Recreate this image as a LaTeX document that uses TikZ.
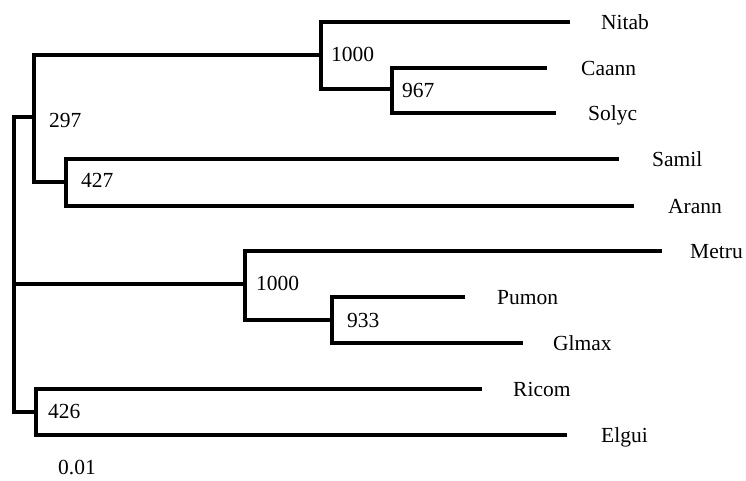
\documentclass[tikz,border=0pt]{standalone}
\usepackage{fontspec}
\setmainfont{Liberation Serif}
\begin{document}
\begin{tikzpicture}[x=1pt,y=-1pt,
  branch/.style={line width=3.2pt,line join=miter,line cap=butt},
  txt/.style={inner sep=0pt,anchor=west,text height=14.2pt,text depth=0pt,font=\fontsize{21.5}{24}\selectfont}]
\useasboundingbox (0,0) rectangle (746,481);
% internal nodes
\coordinate (root) at (14,284);
\coordinate (n297) at (34,117);
\coordinate (n1000a) at (321,55);
\coordinate (n967) at (392,89);
\coordinate (n427) at (66,182);
\coordinate (n1000b) at (245,284);
\coordinate (n933) at (332,320);
\coordinate (n426) at (36,412);
% leaf ends
\coordinate (lNitab) at (570,22);
\coordinate (lCaann) at (547,68);
\coordinate (lSolyc) at (556,113);
\coordinate (lSamil) at (619,159);
\coordinate (lArann) at (634,206);
\coordinate (lMetru) at (662,251);
\coordinate (lPumon) at (465,297);
\coordinate (lGlmax) at (523,343);
\coordinate (lRicom) at (482,389);
\coordinate (lElgui) at (567,435);
% branches
\draw[branch] (root) |- (n297);
\draw[branch] (root) -- (n1000b);
\draw[branch] (root) |- (n426);
\draw[branch] (n297) |- (n1000a);
\draw[branch] (n297) |- (n427);
\draw[branch] (n1000a) |- (lNitab);
\draw[branch] (n1000a) |- (n967);
\draw[branch] (n967) |- (lCaann);
\draw[branch] (n967) |- (lSolyc);
\draw[branch] (n427) |- (lSamil);
\draw[branch] (n427) |- (lArann);
\draw[branch] (n1000b) |- (lMetru);
\draw[branch] (n1000b) |- (n933);
\draw[branch] (n933) |- (lPumon);
\draw[branch] (n933) |- (lGlmax);
\draw[branch] (n426) |- (lRicom);
\draw[branch] (n426) |- (lElgui);
% leaf labels
\node[txt] (tNitab) at (601,22) {Nitab};
\node[txt] (tCaann) at (581,68) {Caann};
\node[txt] (tSolyc) at (588,113) {Solyc};
\node[txt] (tSamil) at (652,159) {Samil};
\node[txt] (tArann) at (668,206) {Arann};
\node[txt] (tMetru) at (690,251) {Metru};
\node[txt] (tPumon) at (497,297) {Pumon};
\node[txt] (tGlmax) at (553,343) {Glmax};
\node[txt] (tRicom) at (513,389) {Ricom};
\node[txt] (tElgui) at (601,435) {Elgui};
% support values
\node[txt] (b297) at (49,120) {297};
\node[txt] (b427) at (81,180) {427};
\node[txt] (b1000a) at (331,54) {1000};
\node[txt] (b967) at (402,90) {967};
\node[txt] (b1000b) at (256,283.5) {1000};
\node[txt] (b933) at (347,320) {933};
\node[txt] (b426) at (48,411) {426};
\node[txt] (scale) at (58,467) {0.01};
\end{tikzpicture}
\end{document}
